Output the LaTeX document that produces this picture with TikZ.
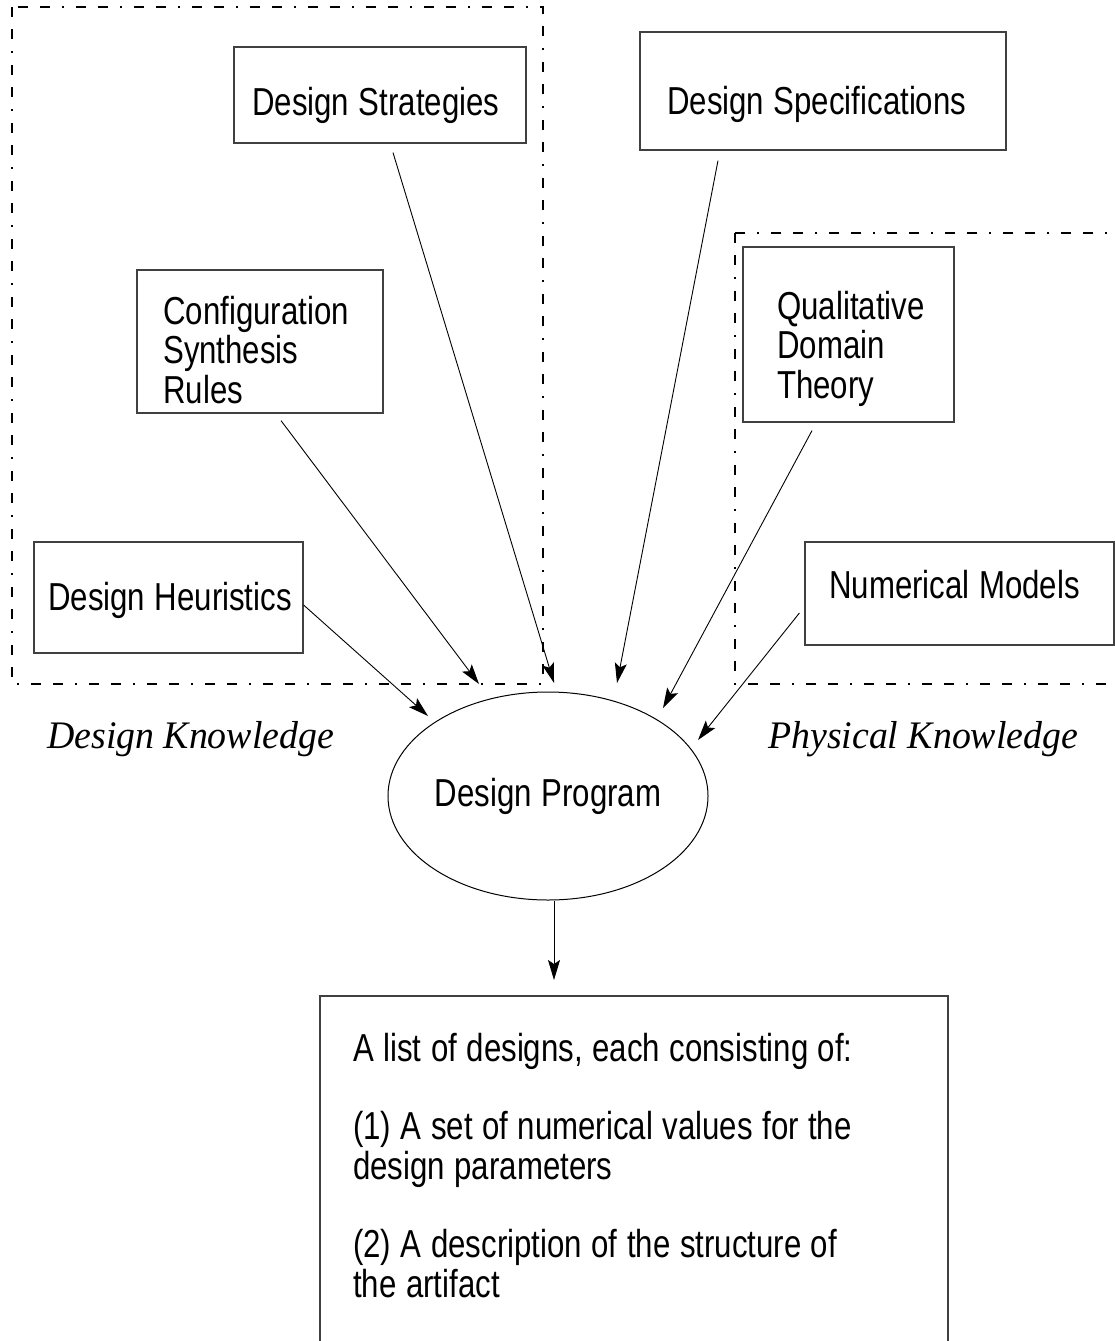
\documentclass[tikz,border=0pt]{standalone}
\usepackage{fontspec}
\newfontfamily\boxfont[FakeStretch=0.8,WordSpace=1.1]{Liberation Sans}
\newfontfamily\labelfont[FakeStretch=0.97]{Liberation Serif}
\usetikzlibrary{arrows.meta,shapes.geometric}

\begin{document}
\begin{tikzpicture}[x=1pt,y=-1pt,
    box/.style={draw=black!75,line width=1.2pt,inner sep=0pt},
    txt/.style={anchor=base west,align=flush left,text width=600pt,inner sep=0pt,
      font=\boxfont\fontsize{39}{39.5}\selectfont},
    knowledge/.style={anchor=base west,inner sep=0pt,
      font=\labelfont\itshape\fontsize{39}{40}\selectfont},
    area/.style={line width=1.6pt,
      dash pattern=on 10pt off 12pt on 10pt off 12pt on 2pt off 12pt},
    arr/.style={line width=0.9pt,-{Stealth[length=20pt,width=12pt,inset=4pt]}}]
  \useasboundingbox (0,0) rectangle (1115,1341);
  \clip (0,0) rectangle (1115,1341);

  \draw[area] (12,7) rectangle (543,684);
  \draw[area] (735,233) rectangle (1130,684);

  \node[box,minimum width=292pt,minimum height=96pt] (strat) at (380,95) {};
  \node[txt] (strat-t) at (252,115) {Design Strategies};
  \node[box,minimum width=366pt,minimum height=118pt] (spec) at (823,91) {};
  \node[txt] (spec-t) at (667,114) {Design Specifications};
  \node[box,minimum width=246pt,minimum height=143pt] (conf) at (260,341.5) {};
  \node[txt] (conf-t) at (163,324) {Configuration\\Synthesis\\Rules};
  \node[box,minimum width=211pt,minimum height=175pt] (qual) at (848.5,334.5) {};
  \node[txt] (qual-t) at (777,319) {Qualitative\\Domain\\Theory};
  \node[box,minimum width=269pt,minimum height=111pt] (heur) at (168.5,597.5) {};
  \node[txt] (heur-t) at (48,610) {Design Heuristics};
  \node[box,minimum width=309pt,minimum height=103pt] (num) at (959.5,593.5) {};
  \node[txt] (num-t) at (829,598) {Numerical Models};

  \node[knowledge] (dk) at (47,748) {Design Knowledge};
  \node[knowledge] (pk) at (768,748) {Physical Knowledge};

  \node[draw,ellipse,line width=1pt,inner sep=0pt,minimum width=320pt,minimum height=208pt,
    font=\boxfont\fontsize{39}{39.5}\selectfont] (prog) at (548,796) {Design Program};

  \node[box,minimum width=628pt,minimum height=384pt] (out) at (634,1188) {};
  \node[txt] (out-t) at (353,1061) {A list of designs, each consisting of:\\[39pt]
    (1) A set of numerical values for the\\design parameters\\[39pt]
    (2) A description of the structure of\\the artifact};

  \coordinate (t-heur) at (428,716);
  \coordinate (t-conf) at (479,684);
  \coordinate (t-strat) at (554,683);
  \coordinate (t-spec) at (617,683);
  \coordinate (t-qual) at (663,708);
  \coordinate (t-num) at (698,740);
  \coordinate (t-out) at (554,980);

  \draw[arr] ([yshift=-7.5pt]heur.east) -- (t-heur);
  \draw[arr] ([xshift=21pt,yshift=-7pt]conf.south) -- (t-conf);
  \draw[arr] ([xshift=13pt,yshift=-9pt]strat.south) -- (t-strat);
  \draw[arr] ([xshift=-105pt,yshift=-10pt]spec.south) -- (t-spec);
  \draw[arr] ([xshift=-36.5pt,yshift=-8pt]qual.south) -- (t-qual);
  \draw[arr] ([xshift=-5pt,yshift=-19.5pt]num.west) -- (t-num);
  \draw[arr] ([xshift=6pt]prog.south) -- (t-out);
\end{tikzpicture}
\end{document}
